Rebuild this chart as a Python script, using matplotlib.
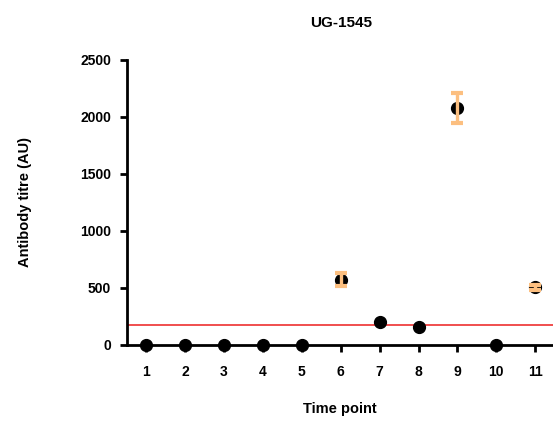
import matplotlib
matplotlib.use('Agg')
from matplotlib import pyplot as plt

plt.rcParams['font.family'] = ['Liberation Sans', 'DejaVu Sans']
plt.rcParams['font.weight'] = 'bold'

time_points = [1, 2, 3, 4, 5, 6, 7, 8, 9, 10, 11]
titre = [0, 0, 0, 0, 0, 570, 200, 155, 2078, 0, 503]
titre_err = [0, 0, 0, 0, 0, 60, 0, 0, 135, 0, 22]
cutoff = 171
y_ticks = [0, 500, 1000, 1500, 2000, 2500]

W, H = 553, 425
fig = plt.figure(figsize=(W / 100, H / 100), dpi=100)
ax = fig.add_axes([126.7 / W, 1 - 344.5 / H, 428 / W, 284.5 / H])

ax.axhline(cutoff, color='#ee3030', lw=1.2, zorder=1)
ax.plot(time_points, titre, 'o', color='black', ms=8.5, zorder=3, clip_on=False)

# error bars only where there is spread, drawn over the points
ex = [t for t, e in zip(time_points, titre_err) if e > 0]
ey = [v for v, e in zip(titre, titre_err) if e > 0]
ee = [e for e in titre_err if e > 0]
ax.errorbar(ex, ey, yerr=ee, fmt='none', ecolor='#fcbf80', elinewidth=2.4,
            capsize=4.2, capthick=3, zorder=4)

ax.set_xlim(0.5, 11.5)
ax.set_ylim(0, 2500)
ax.set_xticks(time_points)
ax.set_yticks(y_ticks)
ax.tick_params(direction='out', length=5, width=2, labelsize=10)
ax.tick_params(axis='x', pad=10)
ax.tick_params(axis='y', pad=6.3)

ax.spines['top'].set_visible(False)
ax.spines['right'].set_visible(False)
ax.spines['left'].set_linewidth(2)
ax.spines['bottom'].set_linewidth(2)

ax.set_title('UG-1545', fontsize=11, fontweight='bold', pad=24)
fig.text(340 / W, 1 - 409 / H, 'Time point', fontsize=10.5, fontweight='bold',
         ha='center', va='center')
fig.text(25 / W, 1 - 202 / H, 'Antibody titre (AU)', fontsize=10.5,
         fontweight='bold', ha='center', va='center', rotation=90)

fig.savefig('out.png', dpi=100)
